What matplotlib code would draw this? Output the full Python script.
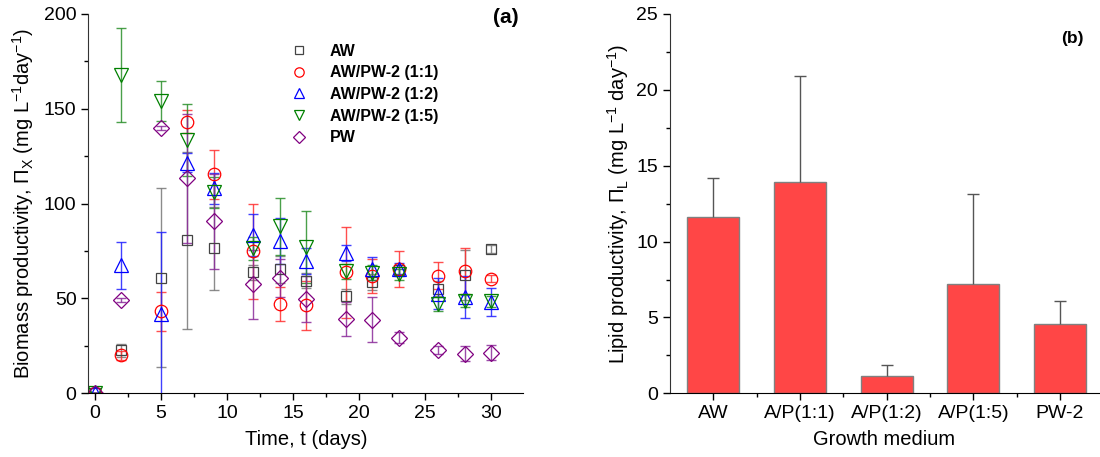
import numpy as np
import matplotlib.pyplot as plt
from matplotlib.ticker import MultipleLocator

plt.rcParams['font.family'] = ['Liberation Sans', 'DejaVu Sans']
plt.rcParams['mathtext.fontset'] = 'custom'
plt.rcParams['mathtext.rm'] = 'Liberation Sans'
plt.rcParams['mathtext.default'] = 'regular'

# Panel (a): biomass productivity vs time
days = [0, 2, 5, 7, 9, 12, 14, 16, 19, 21, 23, 26, 28, 30]

aw = [0, 22.7, 61, 80.7, 76.4, 63.7, 65.4, 59.3, 51.2, 58.7, 64.9, 55.2, 62.3, 76]
aw_err = [0, 3.5, 47, 46.7, 22, 4, 7, 4, 4, 4, 3, 4, 13, 2]

mix11 = [0, 20, 43.3, 143.2, 115.4, 74.8, 47.1, 46.4, 63.7, 61.7, 65.4, 62.1, 64.4, 60.5]
mix11_err = [0, 2.5, 10.3, 6, 13, 25, 9, 13, 24, 9, 9.4, 7, 12, 2]

mix12 = [0, 67.5, 42, 121.5, 108, 83.4, 80.4, 69.7, 74, 65.8, 65.8, 52.6, 50.8, 48.2]
mix12_err = [0, 12.5, 43, 5, 8, 11, 12, 7, 4, 6, 3, 8, 11, 7.4]

mix15 = [0, 167.8, 154, 133.5, 105.9, 76.4, 88.1, 76.9, 64.4, 63.5, 62.8, 47.3, 48.7, 48.5]
mix15_err = [0, 25, 10.5, 19, 8, 6, 15, 19, 4, 4, 3, 3.7, 3, 3]

pw = [0, 49.4, 140, 113.3, 90.8, 57.4, 60.9, 49.8, 39, 38.9, 29.4, 22.7, 20.9, 21.5]
pw_err = [0, 1, 1, 34, 25, 18, 10, 12, 9, 12, 3, 2, 4, 4]

# Panel (b): lipid productivity by medium
media = ['AW', 'A/P(1:1)', 'A/P(1:2)', 'A/P(1:5)', 'PW-2']
lipid = [11.63, 13.94, 1.14, 7.19, 4.55]
lipid_err = [2.53, 6.96, 0.71, 5.94, 1.52]

fig = plt.figure(figsize=(11, 4.57), dpi=100)
ax1 = fig.add_axes([0.0803, 0.1394, 0.3954, 0.83])
ax2 = fig.add_axes([0.6091, 0.1394, 0.3900, 0.83])

series = [
    (aw, aw_err, 's', '#444444', '#777777', 'AW', 7.5),
    (mix11, mix11_err, 'o', '#ff0000', '#ff3030', 'AW/PW-2 (1:1)', 9),
    (mix12, mix12_err, '^', '#0000ff', '#2020ff', 'AW/PW-2 (1:2)', 10),
    (mix15, mix15_err, 'v', '#008000', '#2a8f2a', 'AW/PW-2 (1:5)', 10),
    (pw, pw_err, 'D', '#800080', '#8a2a9a', 'PW', 8),
]
handles = []
for vals, errs, mk, col, ecol, lab, ms in series:
    ax1.errorbar(days, vals, yerr=errs, fmt='none', ecolor=ecol, elinewidth=1,
                 capsize=3.5, capthick=1, alpha=0.85, zorder=2)
    ax1.plot(days, vals, linestyle='none', marker=mk, ms=ms, mfc='none',
             mec=col, mew=0.9, zorder=3)
    h, = ax1.plot([], [], linestyle='none', marker=mk, ms=ms * 0.75, mfc='none',
                  mec=col, mew=0.9, label=lab)
    handles.append(h)

ax1.set_xlim(-0.5, 32.45)
ax1.set_ylim(0, 200)
ax1.xaxis.set_major_locator(MultipleLocator(5))
ax1.xaxis.set_minor_locator(MultipleLocator(2.5))
ax1.yaxis.set_major_locator(MultipleLocator(50))
ax1.yaxis.set_minor_locator(MultipleLocator(25))
ax1.set_xlabel('Time, t (days)', fontsize=14.5, labelpad=6)
ax1.set_ylabel(r'Biomass productivity, $\Pi_X$ (mg L$^{-1}$day$^{-1}$)',
               fontsize=14.5, labelpad=6)
leg = ax1.legend(handles=handles, loc='upper left', bbox_to_anchor=(0.415, 0.96),
                 frameon=False, handletextpad=0.9, labelspacing=0.42,
                 prop={'weight': 'bold', 'size': 11.5})
ax1.text(0.99, 1.015, '(a)', transform=ax1.transAxes, ha='right', va='top',
         fontsize=15, fontweight='bold')

x = np.arange(len(media))
tops = np.array(lipid) + np.array(lipid_err)
ax2.bar(x, lipid, width=0.6, color='#ff4646', edgecolor='#808080', linewidth=1, zorder=2)
ax2.vlines(x, lipid, tops, colors='#555555', linewidth=1, zorder=3)
ax2.plot(x, tops, linestyle='none', marker='_', ms=9, mew=1, color='#555555', zorder=3)
ax2.set_xlim(-0.5, 4.45)
ax2.set_ylim(0, 25)
ax2.set_xticks(x)
ax2.set_xticklabels(media)
ax2.set_xticks(x[:-1] + 0.5, minor=True)
ax2.yaxis.set_major_locator(MultipleLocator(5))
ax2.yaxis.set_minor_locator(MultipleLocator(2.5))
ax2.set_xlabel('Growth medium', fontsize=14.5, labelpad=6)
ax2.set_ylabel(r'Lipid productivity, $\Pi_L$ (mg L$^{-1}$ day$^{-1}$)', fontsize=14.5)
ax2.text(0.965, 0.955, '(b)', transform=ax2.transAxes, ha='right', va='top',
         fontsize=12.5, fontweight='bold')

for ax in (ax1, ax2):
    ax.spines['top'].set_visible(False)
    ax.spines['right'].set_visible(False)
    ax.spines['left'].set_color('#333333')
    ax.spines['bottom'].set_color('#000000')
    ax.spines['left'].set_zorder(5)
    ax.spines['bottom'].set_zorder(5)
    ax.tick_params(which='major', direction='out', length=5, width=1, labelsize=14)
    ax.tick_params(which='minor', direction='out', length=3, width=1)

fig.savefig('out.png', dpi=100)
